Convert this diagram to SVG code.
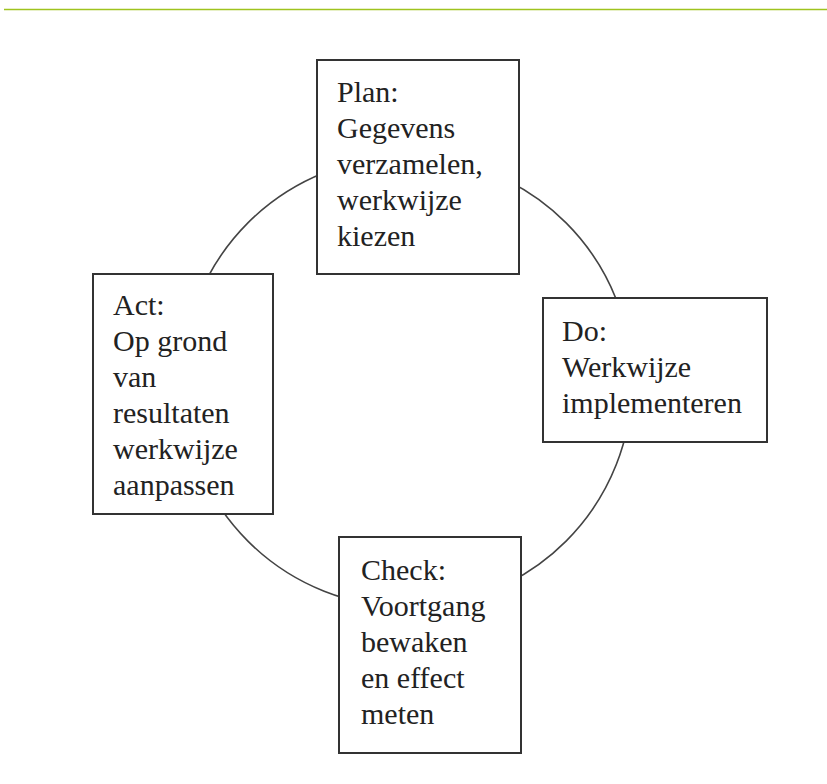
<svg xmlns="http://www.w3.org/2000/svg" width="827" height="784" viewBox="0 0 827 784">
<style>
.box{fill:#fff;stroke:#333;stroke-width:2}
.t{font-family:"Liberation Serif","Times New Roman",serif;font-size:30px;fill:#222}
.conn{fill:none;stroke:#444;stroke-width:1.6}
</style>
<rect x="0" y="0" width="827" height="784" fill="#fff"/>
<line x1="4" y1="9.5" x2="827" y2="9.5" stroke="#9fc31e" stroke-width="1.5"/>
<g id="connectors">
<circle class="conn" cx="407" cy="382" r="225"/>
</g>
<g id="plan">
<rect class="box" x="317" y="60" width="202" height="214"/>
<text class="t" x="337" y="102">Plan:</text>
<text class="t" x="337" y="138">Gegevens</text>
<text class="t" x="337" y="174">verzamelen,</text>
<text class="t" x="337" y="210">werkwijze</text>
<text class="t" x="337" y="246">kiezen</text>
</g>
<g id="do">
<rect class="box" x="543" y="298" width="224" height="144"/>
<text class="t" x="562" y="341">Do:</text>
<text class="t" x="562" y="377">Werkwijze</text>
<text class="t" x="562" y="413">implementeren</text>
</g>
<g id="check">
<rect class="box" x="339" y="537" width="182" height="216"/>
<text class="t" x="361" y="580">Check:</text>
<text class="t" x="361" y="616">Voortgang</text>
<text class="t" x="361" y="652">bewaken</text>
<text class="t" x="361" y="688">en effect</text>
<text class="t" x="361" y="724">meten</text>
</g>
<g id="act">
<rect class="box" x="93" y="274" width="180" height="240"/>
<text class="t" x="113" y="315">Act:</text>
<text class="t" x="113" y="351">Op grond</text>
<text class="t" x="113" y="387">van</text>
<text class="t" x="113" y="423">resultaten</text>
<text class="t" x="113" y="459">werkwijze</text>
<text class="t" x="113" y="495">aanpassen</text>
</g>
</svg>
